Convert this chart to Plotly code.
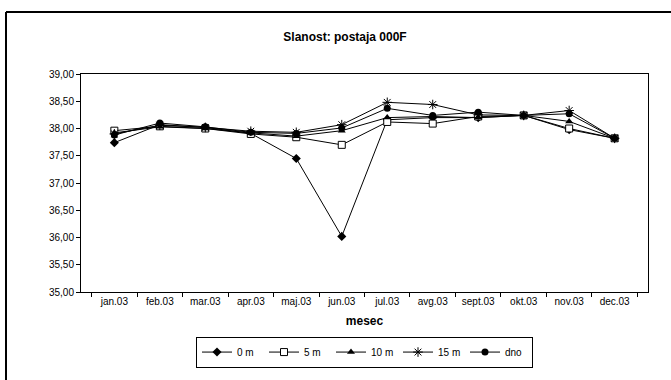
import plotly.graph_objects as go

months = ["jan.03", "feb.03", "mar.03", "apr.03", "maj.03", "jun.03",
          "jul.03", "avg.03", "sept.03", "okt.03", "nov.03", "dec.03"]
s_0m = [37.74, 38.07, 38.02, 37.91, 37.45, 36.02, 38.16, 38.20, 38.20, 38.24, 37.98, 37.82]
s_5m = [37.96, 38.04, 38.00, 37.90, 37.84, 37.70, 38.12, 38.09, 38.22, 38.24, 38.00, 37.82]
s_10m = [37.92, 38.03, 38.00, 37.92, 37.86, 37.96, 38.20, 38.22, 38.20, 38.24, 38.13, 37.82]
s_15m = [37.90, 38.06, 38.02, 37.95, 37.93, 38.07, 38.48, 38.44, 38.25, 38.24, 38.33, 37.82]
s_dno = [37.88, 38.10, 38.03, 37.93, 37.91, 38.01, 38.37, 38.24, 38.30, 38.24, 38.27, 37.82]

series = [
    ("0 m", s_0m, dict(symbol="diamond", size=7, color="black")),
    ("5 m", s_5m, dict(symbol="square", size=7, color="white", line=dict(color="black", width=1))),
    ("10 m", s_10m, dict(symbol="triangle-up", size=7, color="black")),
    ("15 m", s_15m, dict(symbol="asterisk-open", size=8, color="black", line=dict(color="black", width=1))),
    ("dno", s_dno, dict(symbol="circle", size=7, color="black")),
]

fig = go.Figure()
for name, vals, mk in series:
    fig.add_trace(go.Scatter(x=months, y=vals, name=name, mode="lines+markers",
                             line=dict(color="black", width=1), marker=mk))

L, R, T, B = 81, 23, 74, 81
W, H = 671, 380
pw, ph = W - L - R, H - T - B

def px_x(p):
    return (p - L) / pw

def px_y(p):
    return (H - B - p) / ph

fig.update_layout(
    width=W, height=H,
    margin=dict(l=L, r=R, t=T, b=B),
    paper_bgcolor="white", plot_bgcolor="white",
    font=dict(family="Liberation Sans, Arial, sans-serif", size=10, color="black"),
    separators=",.",
    title=dict(text="<b>Slanost: postaja 000F</b>", x=345 / W, xref="container", xanchor="center",
               y=1 - 37 / H, yanchor="middle", font=dict(size=12)),
    xaxis=dict(type="category", showline=True, linecolor="black", linewidth=1, mirror=True,
               ticks="outside", tickson="boundaries", ticklen=4, tickcolor="black",
               showgrid=False, title=dict(text="<b>mesec</b>", font=dict(size=12), standoff=10)),
    yaxis=dict(range=[35, 39], dtick=0.5, tickformat=".2f", showline=True, linecolor="black",
               linewidth=1, mirror=True, ticks="outside", ticklen=4, tickcolor="black",
               showgrid=False, zeroline=False),
    legend=dict(orientation="h", x=0.5, xanchor="center", y=px_y(345), yanchor="top",
                bordercolor="black", borderwidth=1, bgcolor="white",
                font=dict(size=10), itemwidth=30, entrywidth=22, entrywidthmode="pixels",
                tracegroupgap=0),
    shapes=[
        dict(type="line", xref="paper", yref="paper",
             x0=px_x(6), y0=px_y(10), x1=px_x(700), y1=px_y(10),
             line=dict(color="black", width=2)),
        dict(type="line", xref="paper", yref="paper",
             x0=px_x(6), y0=px_y(10), x1=px_x(6), y1=px_y(400),
             line=dict(color="black", width=2)),
    ],
)

fig.write_html("out.html")
